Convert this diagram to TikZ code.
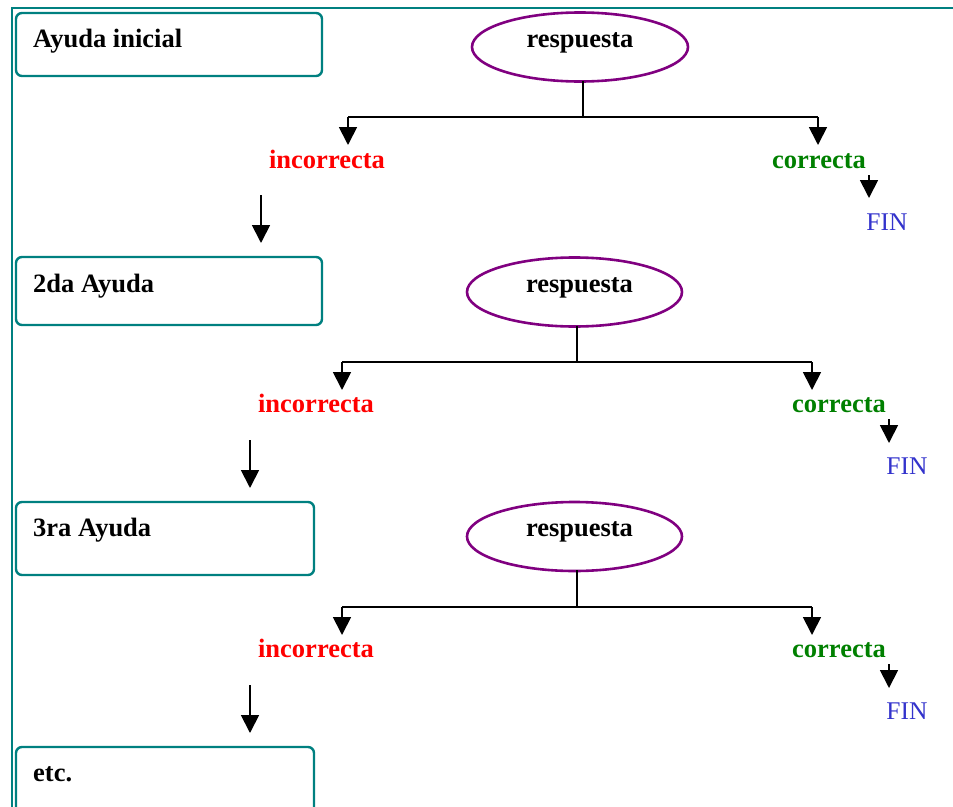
\documentclass[tikz,border=0pt]{standalone}
\usepackage{fontspec}
\setmainfont{Liberation Serif}
\usetikzlibrary{shapes.geometric,arrows.meta}
\definecolor{bordteal}{RGB}{0,128,128}
\definecolor{ellpurple}{RGB}{128,0,128}
\definecolor{okgreen}{RGB}{0,128,0}
\definecolor{finblue}{RGB}{51,51,204}
\tikzset{
  helpbox/.style={draw=bordteal, line width=2.4pt, rounded corners=6pt, inner sep=0pt},
  ell/.style={draw=ellpurple, line width=2.6pt, ellipse, minimum width=215pt, minimum height=69pt, inner sep=0pt},
  txt/.style={font=\fontsize{26.5}{30}\selectfont\bfseries, inner sep=0pt, anchor=base},
  boxtxt/.style={txt, anchor=base west},
  bad/.style={txt, text=red},
  good/.style={txt, text=okgreen},
  fin/.style={font=\fontsize{25.5}{30}\selectfont, text=finblue, inner sep=0pt, anchor=base},
  conn/.style={line width=1.8pt, black},
  arr/.style={conn, -{Triangle[length=18pt,width=18pt]}},
}
\begin{document}
\begin{tikzpicture}[x=1pt,y=-1pt]
\useasboundingbox (0,0) rectangle (953,806);
\draw[bordteal, line width=2.8pt] (953,8) -- (12,8) -- (12,810);

% ---------- row 1
\node[helpbox, minimum width=306pt, minimum height=63pt] (b1) at (169,44.5) {};
\node[boxtxt] (t1) at (33,47) {Ayuda inicial};
\node[ell, minimum width=216pt, minimum height=69pt] (e1) at (580,47) {};
\node[txt] (r1) at (580,47) {respuesta};
\coordinate (j1) at (583,117);
\coordinate (l1) at (348,117);
\coordinate (rt1) at (818,117);
\coordinate (lt1) at (348,145);
\coordinate (rtt1) at (818,145);
\node[bad] (i1) at (327,168) {incorrecta};
\node[good] (c1) at (819,168) {correcta};
\node[fin] (f1) at (887,230) {FIN};
\coordinate (fs1) at (869,175);
\coordinate (ft1) at (869,198);
\coordinate (ds1) at (261,195);
\coordinate (dt1) at (261,243);
\draw[conn] ([yshift=2pt]e1.south -| j1) -- (j1);
\draw[conn] (l1) -- (rt1);
\draw[arr] (l1) -- (lt1);
\draw[arr] (rt1) -- (rtt1);
\draw[arr] (fs1) -- (ft1);
\draw[arr] (ds1) -- (dt1);

% ---------- row 2
\node[helpbox, minimum width=306pt, minimum height=68pt] (b2) at (169,291) {};
\node[boxtxt] (t2) at (33,292) {2da Ayuda};
\node[ell] (e2) at (574.5,292) {};
\node[txt] (r2) at (579.5,292) {respuesta};
\coordinate (j2) at (577,362);
\coordinate (l2) at (342,362);
\coordinate (rt2) at (812,362);
\coordinate (lt2) at (342,390);
\coordinate (rtt2) at (812,390);
\node[bad] (i2) at (316,412) {incorrecta};
\node[good] (c2) at (839,412) {correcta};
\node[fin] (f2) at (907,474) {FIN};
\coordinate (fs2) at (889,419);
\coordinate (ft2) at (889,443);
\coordinate (ds2) at (250,440);
\coordinate (dt2) at (250,488);
\draw[conn] ([yshift=2pt]e2.south -| j2) -- (j2);
\draw[conn] (l2) -- (rt2);
\draw[arr] (l2) -- (lt2);
\draw[arr] (rt2) -- (rtt2);
\draw[arr] (fs2) -- (ft2);
\draw[arr] (ds2) -- (dt2);

% ---------- row 3
\node[helpbox, minimum width=298pt, minimum height=73pt] (b3) at (165,538.5) {};
\node[boxtxt] (t3) at (33,536) {3ra Ayuda};
\node[ell] (e3) at (574.5,536.5) {};
\node[txt] (r3) at (579.5,536) {respuesta};
\coordinate (j3) at (577,607);
\coordinate (l3) at (342,607);
\coordinate (rt3) at (812,607);
\coordinate (lt3) at (342,635);
\coordinate (rtt3) at (812,635);
\node[bad] (i3) at (316,657) {incorrecta};
\node[good] (c3) at (839,657) {correcta};
\node[fin] (f3) at (907,719) {FIN};
\coordinate (fs3) at (889,664);
\coordinate (ft3) at (889,688);
\coordinate (ds3) at (250,685);
\coordinate (dt3) at (250,733);
\draw[conn] ([yshift=2pt]e3.south -| j3) -- (j3);
\draw[conn] (l3) -- (rt3);
\draw[arr] (l3) -- (lt3);
\draw[arr] (rt3) -- (rtt3);
\draw[arr] (fs3) -- (ft3);
\draw[arr] (ds3) -- (dt3);

% ---------- row 4
\node[helpbox, minimum width=298pt, minimum height=73pt] (b4) at (165,783.5) {};
\node[boxtxt] (t4) at (33,781) {etc.};
\end{tikzpicture}
\end{document}
